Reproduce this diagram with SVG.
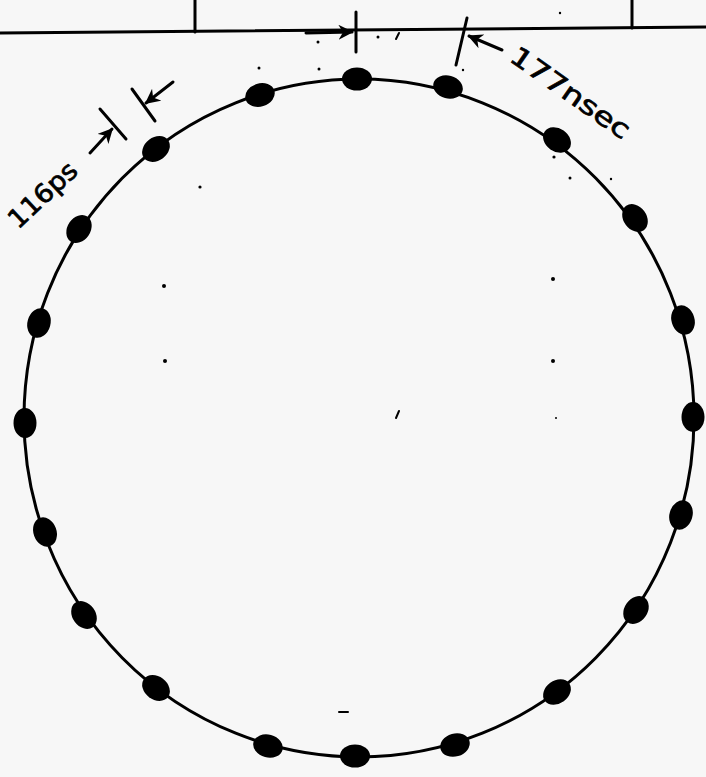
<svg xmlns="http://www.w3.org/2000/svg" width="706" height="777" viewBox="0 0 706 777">
<style>
.ln{stroke:#000;stroke-width:3;fill:none;stroke-linecap:round}
.dot{fill:#000}
.sp{fill:#000}
.lbl{font-family:"DejaVu Sans","Liberation Sans",sans-serif;font-size:26px;fill:#000;stroke:#000;stroke-width:0.7}
</style>
<defs>
<marker id="ah" viewBox="0 0 10 10" refX="9" refY="5" markerWidth="5" markerHeight="5" orient="auto" markerUnits="strokeWidth">
<path d="M0,0 L10,5 L0,10 L3,5 Z" fill="#000"/>
</marker>
</defs>
<rect width="706" height="777" fill="#f7f7f7"/>
<g id="frame">
<path class="ln" d="M0,33 L706,27"/>
<path class="ln" d="M195,0 L195,32"/>
<path class="ln" d="M632,0 L632,28"/>
</g>
<g id="ring">
<ellipse class="ln" cx="359" cy="418" rx="335" ry="339"/>
</g>
<g id="dots">
<ellipse class="dot" cx="357" cy="79" rx="15" ry="11.5" transform="rotate(0 357 79)"/>
<ellipse class="dot" cx="448" cy="87" rx="15" ry="11.5" transform="rotate(15 448 87)"/>
<ellipse class="dot" cx="557" cy="140" rx="15" ry="11.5" transform="rotate(35 557 140)"/>
<ellipse class="dot" cx="635" cy="218" rx="15" ry="11.5" transform="rotate(54 635 218)"/>
<ellipse class="dot" cx="683" cy="320" rx="15" ry="11.5" transform="rotate(73 683 320)"/>
<ellipse class="dot" cx="693" cy="417" rx="15" ry="11.5" transform="rotate(90 693 417)"/>
<ellipse class="dot" cx="681" cy="515" rx="15" ry="11.5" transform="rotate(107 681 515)"/>
<ellipse class="dot" cx="636" cy="610" rx="15" ry="11.5" transform="rotate(125 636 610)"/>
<ellipse class="dot" cx="557" cy="692" rx="15" ry="11.5" transform="rotate(144 557 692)"/>
<ellipse class="dot" cx="455" cy="745" rx="15" ry="11.5" transform="rotate(164 455 745)"/>
<ellipse class="dot" cx="355" cy="756" rx="15" ry="11.5" transform="rotate(180 355 756)"/>
<ellipse class="dot" cx="268" cy="746" rx="15" ry="11.5" transform="rotate(195 268 746)"/>
<ellipse class="dot" cx="156" cy="688" rx="15" ry="11.5" transform="rotate(217 156 688)"/>
<ellipse class="dot" cx="84" cy="615" rx="15" ry="11.5" transform="rotate(234 84 615)"/>
<ellipse class="dot" cx="45" cy="532" rx="15" ry="11.5" transform="rotate(250 45 532)"/>
<ellipse class="dot" cx="25" cy="423" rx="15" ry="11.5" transform="rotate(269 25 423)"/>
<ellipse class="dot" cx="39" cy="323" rx="15" ry="11.5" transform="rotate(286 39 323)"/>
<ellipse class="dot" cx="79" cy="229" rx="15" ry="11.5" transform="rotate(304 79 229)"/>
<ellipse class="dot" cx="156" cy="149" rx="15" ry="11.5" transform="rotate(323 156 149)"/>
<ellipse class="dot" cx="260" cy="95" rx="15" ry="11.5" transform="rotate(343 260 95)"/>
</g>
<g id="connectors">
<path class="ln" d="M90,153 L112,129" marker-end="url(#ah)"/>
<path class="ln" d="M100,109 L126,139"/>
<path class="ln" d="M173,82 L146,103" marker-end="url(#ah)"/>
<path class="ln" d="M132,89 L155,121"/>
<path class="ln" d="M306,33 L352,32" marker-end="url(#ah)"/>
<path class="ln" d="M356,12 L356,52"/>
<path class="ln" d="M502,50 L469,36" marker-end="url(#ah)"/>
<path class="ln" d="M467,18 L456,65"/>
</g>
<g id="labels">
<text class="lbl" x="0" y="0" transform="translate(18,230) rotate(-43)" textLength="84" lengthAdjust="spacingAndGlyphs">116ps</text>
<text class="lbl" x="0" y="0" transform="translate(508,60) rotate(35)" textLength="140" lengthAdjust="spacingAndGlyphs">177nsec</text>
</g>
<g id="specks">
<circle class="sp" cx="318" cy="42" r="1.5"/>
<circle class="sp" cx="378" cy="37" r="1.5"/>
<path class="ln" style="stroke-width:2" d="M396,39 L399,33"/>
<circle class="sp" cx="319" cy="69" r="1.5"/>
<circle class="sp" cx="259" cy="68" r="1.5"/>
<circle class="sp" cx="463" cy="70" r="1.2"/>
<circle class="sp" cx="560" cy="13" r="1.2"/>
<circle class="sp" cx="200" cy="187" r="1.6"/>
<circle class="sp" cx="554" cy="157" r="1.6"/>
<circle class="sp" cx="570" cy="178" r="1.5"/>
<circle class="sp" cx="611" cy="179" r="1.2"/>
<circle class="sp" cx="164" cy="286" r="2"/>
<circle class="sp" cx="165" cy="361" r="2"/>
<circle class="sp" cx="553" cy="279" r="2"/>
<circle class="sp" cx="553" cy="361" r="2"/>
<path class="ln" style="stroke-width:2" d="M396,418 L399,411"/>
<circle class="sp" cx="556" cy="418" r="1"/>
<path class="ln" style="stroke-width:2" d="M339,712 L348,712"/>
</g>
</svg>
